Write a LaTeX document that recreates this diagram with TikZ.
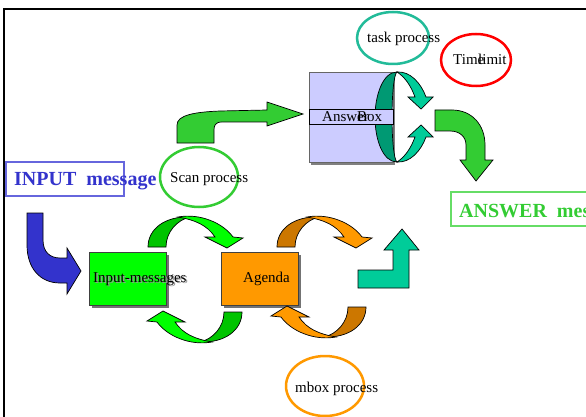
\documentclass[tikz,border=0pt]{standalone}
\usepackage{fontspec}
\setmainfont{Liberation Serif}
\usetikzlibrary{shapes.geometric}
\definecolor{ingreen}{HTML}{00FF00}
\definecolor{ingreendk}{HTML}{00C400}
\definecolor{agorange}{HTML}{FF9900}
\definecolor{agorangedk}{HTML}{CC7700}
\definecolor{lavender}{HTML}{CCCCFF}
\definecolor{midgreen}{HTML}{33CC33}
\definecolor{teal}{HTML}{00CC99}
\definecolor{tealdk}{HTML}{009973}
\definecolor{taskteal}{HTML}{22BB99}
\definecolor{inblue}{HTML}{3333CC}
\definecolor{inboxblue}{HTML}{6666DD}
\definecolor{ansboxgreen}{HTML}{66DD66}
\newcommand\curvyarrow[3]{%
  \begin{scope}[shift={#1}]
    \filldraw[fill=#2,draw=black,line width=0.7] (-47,0) .. controls (-47,-18) and (-30,-31) .. (-5,-30)
      .. controls (-18,-27) and (-29,-15) .. (-29,0) -- cycle;
    \filldraw[fill=#3,draw=black,line width=0.7] (-17,-30) .. controls (5,-34) and (28,-24) .. (38,-10)
      -- (48,-9) -- (32,1) -- (10,-10) -- (20,-10) .. controls (12,-22) and (0,-27) .. (-17,-30) -- cycle;
  \end{scope}}
\tikzset{
  lbl/.style={inner sep=0, font=\fontsize{15}{18}\selectfont, text=black},
  biglbl/.style={inner sep=0, font=\fontsize{20}{24}\selectfont\bfseries},
  procring/.style={ellipse, draw, line width=2.5, inner sep=0},
  boxshape/.style={rectangle, draw=black!75, line width=0.7, inner sep=0},
  shapeline/.style={draw=black, line width=0.7}
}
\begin{document}
\begin{tikzpicture}[x=1pt,y=-1pt]
\useasboundingbox (0,0) rectangle (586,417);
\begin{scope}
\clip (0,0) rectangle (586,417);
\fill[white] (0,0) rectangle (586,417);
% frame
\draw[line width=2.5] (4,9) rectangle (640,460);

% INPUT message
\node[rectangle, draw=inboxblue, line width=1.2, minimum width=118, minimum height=34, inner sep=0] (inbox) at (65,179) {};
\node[biglbl, text=inblue, anchor=base west] (intext) at (14,185) {INPUT\ \ message};

% ANSWER message
\node[rectangle, draw=ansboxgreen, line width=1.2, minimum width=260, minimum height=34, inner sep=0] (ansbox) at (581,209) {};
\node[biglbl, text=midgreen, anchor=base west] (anstext) at (459,217) {ANSWER\ \ message};

% process ellipses
\node[procring, draw=midgreen, minimum width=78, minimum height=60] (scan) at (199,177) {};
\node[lbl, anchor=base west] (scantext) at (170,182) {Scan process};
\node[procring, draw=taskteal, minimum width=72, minimum height=52] (task) at (393,38) {};
\node[lbl, anchor=base west] (tasktext) at (367,43) {task process};
\node[procring, draw=red, minimum width=70, minimum height=52] (timel) at (476,60) {};
\node[lbl, anchor=base west] (timetext) at (453,65) {Time};
\node[lbl, anchor=base west] (limittext) at (478,65) {limit};
\node[procring, draw=agorange, minimum width=78, minimum height=60] (mbox) at (325,386) {};
\node[lbl, anchor=base west] (mboxtext) at (295,392) {mbox process};

% Input-messages and Agenda boxes
\fill[black!55] (92,255) rectangle (169,308);
\node[boxshape, fill=ingreen, minimum width=77, minimum height=53] (inmsg) at (127.5,278.5) {};
\node[lbl, anchor=base west, text=black!40] (inmsgsh) at (94.5,283.5) {Input-messages};
\node[lbl, anchor=base west] (inmsgtext) at (93,282) {Input-messages};
\fill[black!55] (224,255) rectangle (301,308);
\node[boxshape, fill=agorange, minimum width=77, minimum height=53] (agenda) at (259.5,278.5) {};
\node[lbl, anchor=base west] (agendatext) at (243,282) {Agenda};

% AnswerBox
\fill[black!50] (311,75) rectangle (395,165);
\node[boxshape, draw=black!60, fill=lavender, minimum width=84, minimum height=90] (answer) at (351,117) {};

% teal ring
\filldraw[fill=tealdk, shapeline] (397,72) .. controls (383,72) and (375,95) .. (375,117)
  .. controls (375,140) and (383,162) .. (397,162)
  .. controls (394,160) and (392,140) .. (392,117)
  .. controls (392,94) and (394,74) .. (397,72) -- cycle;
\filldraw[fill=teal, shapeline] (397,72) .. controls (410,71) and (421,83) .. (426,97)
  -- (433,97) -- (421,109) -- (408,97) -- (415,97)
  .. controls (411,86) and (405,77) .. (397,72) -- cycle;
\filldraw[fill=teal, shapeline] (397,162) .. controls (410,163) and (421,151) .. (426,137)
  -- (433,137) -- (421,125) -- (408,137) -- (415,137)
  .. controls (411,148) and (405,157) .. (397,162) -- cycle;

% AnswerBox middle strip
\node[boxshape, draw=black, fill=lavender, minimum width=84, minimum height=15] (strip) at (351,116.5) {};
\node[lbl, anchor=base west] (answtext) at (322,122) {Answer};
\node[lbl, anchor=base west] (boxtext) at (357,122) {Box};

% bent arrows
\filldraw[fill=midgreen, shapeline] (177,143) -- (177,125) .. controls (177,115) and (195,112) .. (220,111)
  -- (267,110) -- (267,102) -- (303,114) -- (267,126) -- (267,122) -- (222,122)
  .. controls (215,122) and (214,126) .. (214,130) -- (214,143) -- cycle;
\filldraw[fill=midgreen, shapeline] (435,110) -- (452,110) .. controls (472,110) and (485,125) .. (485,145)
  -- (485,160) -- (493,160) -- (476,181) -- (460,160) -- (466,160) -- (466,145)
  .. controls (466,137) and (460,131) .. (450,131) -- (435,131) -- cycle;
\filldraw[fill=teal, shapeline] (358,270) -- (393,270) -- (393,250) -- (384,250) -- (402,229)
  -- (419,250) -- (409,250) -- (409,288) -- (358,288) -- cycle;
\filldraw[fill=inblue, shapeline] (27,213) -- (43,213) -- (43,240) .. controls (43,252) and (50,258) .. (60,258)
  -- (67,258) -- (67,248) -- (81,271) -- (67,294) -- (67,283) -- (60,283)
  .. controls (40,283) and (27,268) .. (27,245) -- cycle;

% curved circulation arrows
\curvyarrow{(195,247)}{ingreendk}{ingreen}
\curvyarrow{(324,247)}{agorangedk}{agorange}
\begin{scope}[shift={(195,312)}, rotate=180]
  \curvyarrow{(0,0)}{ingreendk}{ingreen}
\end{scope}
\begin{scope}[shift={(319,307)}, rotate=180]
  \curvyarrow{(0,0)}{agorangedk}{agorange}
\end{scope}
\end{scope}
\end{tikzpicture}
\end{document}
